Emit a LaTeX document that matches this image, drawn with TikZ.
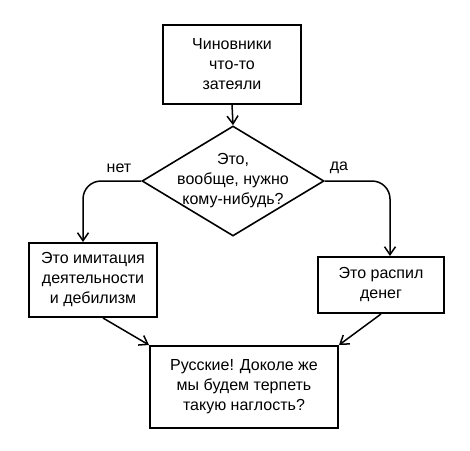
\documentclass[tikz,border=0pt]{standalone}
\usepackage{fontspec}
\setmainfont{Liberation Sans}
\usetikzlibrary{shapes.geometric,arrows.meta}
\tikzset{
  box/.style={draw, line width=2pt, rectangle, inner sep=0pt, align=center, font=\fontsize{16}{20}\selectfont},
  decision/.style={draw, line width=1.6pt, diamond, inner sep=-20pt, minimum width=182pt, minimum height=110pt, align=center, font=\fontsize{16}{20}\selectfont},
  conn/.style={line width=1.5pt, -{Straight Barb[length=8pt,width=11pt]}},
  lbl/.style={font=\fontsize{16}{20}\selectfont, inner sep=0pt}
}
\begin{document}
\begin{tikzpicture}[x=1pt,y=-1pt]
\useasboundingbox (0,0) rectangle (470,450);
\node[box, minimum width=138pt, minimum height=79pt] (top) at (232,64) {Чиновники\\что-то\\затеяли};
\node[decision] (dia) at (233,181) {Это,\\вообще, нужно\\кому-нибудь?};
\node[box, minimum width=128pt, minimum height=74pt] (left) at (93,280) {Это имитация\\деятельности\\и дебилизм};
\node[box, minimum width=126pt, minimum height=56pt] (right) at (381,285) {Это распил\\денег};
\node[box, minimum width=188pt, minimum height=82pt] (bot) at (244,387) {Русские! Доколе же\\мы будем терпеть\\такую наглость?};
\node[lbl] (no) at (119,168) {нет};
\node[lbl] (yes) at (339,168) {да};
\draw[conn] (top.south) -- (dia.north);
\draw[conn, rounded corners=18pt] (dia.west) -| ([xshift=-10pt]left.north);
\draw[conn, rounded corners=18pt] (dia.east) -| ([xshift=9pt]right.north);
\draw[conn] ([xshift=10pt]left.south) -- (bot.north west);
\draw[conn] (right.south) -- (bot.north east);
\end{tikzpicture}
\end{document}
